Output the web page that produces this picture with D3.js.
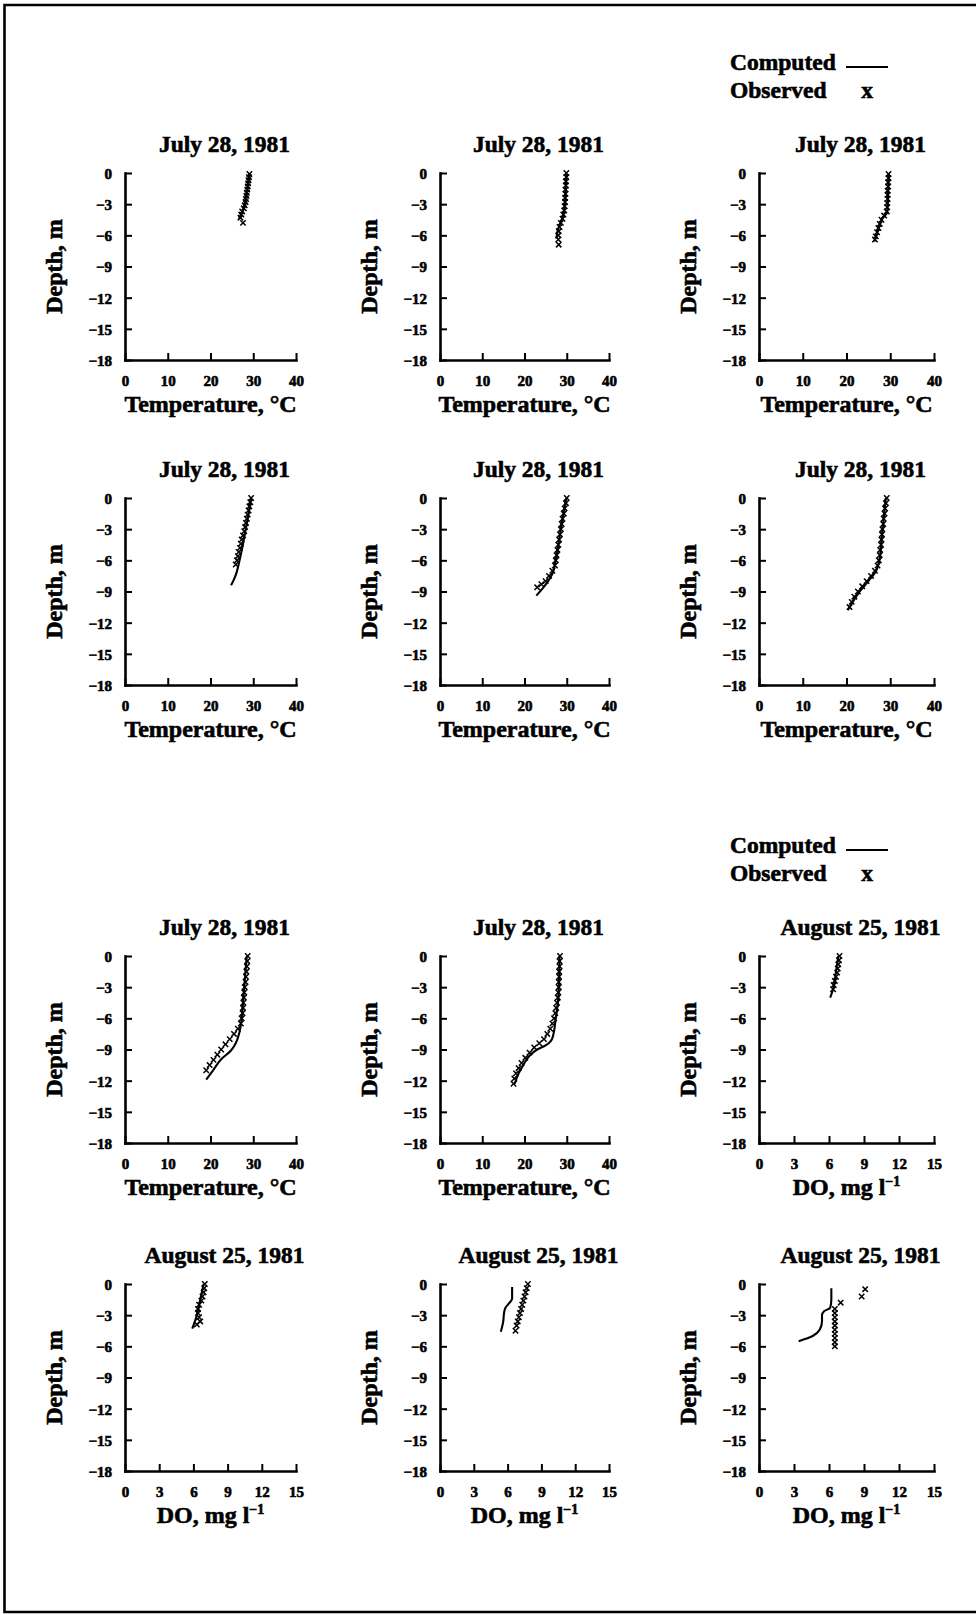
<!DOCTYPE html>
<html>
<head>
<meta charset="utf-8">
<script src="https://cdn.jsdelivr.net/npm/d3@7"></script>
<style>
  html, body { margin: 0; padding: 0; background: #fff; }
  svg { display: block; }
  text { font-family: "Liberation Serif", "DejaVu Serif", serif; font-weight: bold; fill: #000; }
</style>
</head>
<body>
<svg id="fig" width="976" height="1615"></svg>
<script>
// ---- axis ticks and labels ----
const tempTicks = [0, 10, 20, 30, 40];
const doTicks = [0, 3, 6, 9, 12, 15];
const depthTicks = [0, -3, -6, -9, -12, -15, -18];
const depthTickLabels = ["0", "\u22123", "\u22126", "\u22129", "\u221212", "\u221215", "\u221218"];
const tempLabel = "Temperature, °C";
const depthLabel = "Depth, m";
const legendLabels = ["Computed", "Observed"];

const titles = [
  "July 28, 1981", "July 28, 1981", "July 28, 1981",
  "July 28, 1981", "July 28, 1981", "July 28, 1981",
  "July 28, 1981", "July 28, 1981", "August 25, 1981",
  "August 25, 1981", "August 25, 1981", "August 25, 1981"
];
const kinds = ["temp", "temp", "temp", "temp", "temp", "temp",
               "temp", "temp", "do", "do", "do", "do"];

// ---- profiles: [value, depth (m)] ----
const computed1 = [[29.1,0],[28.8,-1],[28.4,-2],[28.0,-3],[27.4,-3.8],[26.7,-4.4]];
const observed1 = [[29.1,-0.1],[29.0,-0.4],[28.9,-0.7],[28.8,-1.0],[28.7,-1.3],[28.6,-1.6],[28.5,-1.9],[28.4,-2.2],
  [28.3,-2.5],[28.2,-2.8],[28.0,-3.1],[27.8,-3.4],[27.4,-3.7],[27.2,-4.0],[27.0,-4.3],[27.6,-4.8]];

const computed2 = [[29.9,-0.1],[29.7,-2],[29.5,-3.2],[29.0,-4.3],[28.3,-5.0],[27.7,-5.8],[27.6,-6.3]];
const observed2 = [[29.9,0],[29.9,-0.4],[29.8,-0.8],[29.8,-1.2],[29.7,-1.6],[29.7,-2.0],[29.6,-2.4],[29.6,-2.8],
  [29.5,-3.2],[29.4,-3.6],[29.2,-4.0],[29.0,-4.4],[28.6,-4.8],[28.3,-5.2],[28.1,-5.6],[28.0,-6.0],[28.0,-6.4],[28.1,-6.9]];

const computed3 = [[29.6,0],[29.5,-2],[29.3,-3.8],[28.3,-4.3],[27.4,-5.2],[26.4,-6.6]];
const observed3 = [[29.6,-0.1],[29.6,-0.5],[29.5,-0.9],[29.5,-1.3],[29.4,-1.7],[29.4,-2.1],[29.4,-2.5],[29.3,-2.9],
  [29.3,-3.3],[29.2,-3.7],[28.6,-4.1],[28.0,-4.5],[27.6,-4.9],[27.3,-5.3],[27.0,-5.7],[26.7,-6.1],[26.5,-6.4]];

const computed4 = [[29.5,0],[28.7,-2],[27.8,-4],[26.8,-6],[26.0,-7.3],[25.3,-8.0],[24.8,-8.4]];
const observed4 = [[29.5,0],[29.3,-0.4],[29.1,-0.8],[28.9,-1.2],[28.7,-1.6],[28.5,-2.0],[28.3,-2.4],[28.1,-2.8],
  [27.9,-3.2],[27.6,-3.6],[27.3,-4.0],[27.1,-4.4],[26.9,-4.8],[26.6,-5.2],[26.4,-5.6],[26.2,-6.0],[25.9,-6.4]];

const computed5 = [[29.9,0],[29.0,-2],[28.2,-4],[27.4,-6],[26.6,-7.3],[25.6,-8.0],[24.3,-8.7],[22.8,-9.4]];
const observed5 = [[30.0,0],[29.8,-0.5],[29.5,-1.0],[29.3,-1.5],[29.0,-2.0],[28.8,-2.5],[28.6,-3.0],[28.4,-3.5],
  [28.2,-4.0],[28.0,-4.5],[27.8,-5.0],[27.6,-5.5],[27.4,-6.0],[27.2,-6.5],[26.6,-7.0],[25.8,-7.5],[25.0,-8.0],
  [24.0,-8.3],[23.0,-8.6]];

const computed6 = [[29.0,0],[28.5,-2],[28.0,-4],[27.5,-6],[26.8,-7.0],[25.0,-8.0],[23.0,-9.0],[21.0,-10.3],[20.3,-10.8]];
const observed6 = [[29.2,0],[29.0,-0.5],[28.8,-1.0],[28.7,-1.5],[28.5,-2.0],[28.4,-2.5],[28.2,-3.0],[28.1,-3.5],
  [28.0,-4.0],[27.9,-4.5],[27.7,-5.0],[27.6,-5.5],[27.4,-6.0],[27.1,-6.5],[26.5,-7.0],[25.6,-7.5],[24.6,-8.0],
  [23.6,-8.5],[22.6,-9.0],[21.8,-9.5],[21.2,-10.0],[20.7,-10.5]];

const computed7 = [[28.5,0],[28.1,-2],[27.7,-4],[27.3,-6],[26.8,-7.3],[25.9,-8.4],[24.8,-9.1],[22.6,-9.9],[20.6,-11.0],[19.0,-11.9]];
const observed7 = [[28.7,0],[28.6,-0.5],[28.5,-1.0],[28.4,-1.5],[28.3,-2.0],[28.2,-2.5],[28.0,-3.0],[27.9,-3.5],
  [27.8,-4.0],[27.7,-4.5],[27.6,-5.0],[27.5,-5.5],[27.3,-6.0],[27.1,-6.5],[26.4,-7.0],[25.5,-7.5],[24.5,-8.0],
  [23.5,-8.5],[22.5,-9.0],[21.6,-9.5],[20.7,-10.0],[19.8,-10.5],[19.0,-11.0]];

const computed8 = [[28.3,0],[28.2,-2],[28.0,-4],[27.4,-6],[26.6,-7.9],[25.0,-8.6],[23.0,-9.0],[21.2,-9.6],[19.7,-10.5],[18.5,-11.4],[17.7,-12.3]];
const observed8 = [[28.4,0],[28.3,-0.5],[28.3,-1.0],[28.2,-1.5],[28.2,-2.0],[28.1,-2.5],[28.1,-3.0],[28.0,-3.5],
  [27.9,-4.0],[27.7,-4.5],[27.5,-5.0],[27.3,-5.5],[27.0,-6.0],[26.6,-6.5],[26.1,-7.0],[25.4,-7.5],[24.6,-8.0],
  [23.5,-8.4],[22.3,-8.8],[21.2,-9.3],[20.2,-9.8],[19.3,-10.3],[18.6,-10.8],[18.0,-11.3],[17.6,-11.8],[17.4,-12.3]];

const computed9 = [[6.8,0],[6.6,-1.5],[6.4,-3],[6.1,-4.0]];
const observed9 = [[6.9,0],[6.85,-0.4],[6.8,-0.8],[6.75,-1.2],[6.7,-1.6],[6.6,-2.0],[6.5,-2.4],[6.4,-2.8],[6.35,-3.2]];

const computed10 = [[6.9,0],[6.6,-1.5],[6.3,-3],[5.9,-4.3]];
const observed10 = [[7.0,0],[6.95,-0.4],[6.9,-0.8],[6.8,-1.2],[6.7,-1.6],[6.5,-2.0],[6.4,-2.4],[6.4,-2.8],
  [6.5,-3.2],[6.6,-3.6],[6.3,-3.9]];

const computed11 = [[6.4,-0.3],[6.4,-1.4],[6.1,-1.9],[5.8,-2.3],[5.7,-2.7],[5.6,-3.7],[5.4,-4.6]];
const observed11 = [[7.8,0],[7.7,-0.4],[7.6,-0.8],[7.5,-1.2],[7.4,-1.6],[7.3,-2.0],[7.2,-2.4],[7.1,-2.8],
  [7.0,-3.2],[6.9,-3.6],[6.8,-4.0],[6.7,-4.5]];

const computed12 = [[6.2,-0.4],[6.2,-1.5],[6.1,-2.3],[5.6,-2.6],[5.4,-3.0],[5.4,-3.6],[5.2,-4.4],[4.6,-5.0],[3.4,-5.5]];
const observed12 = [[9.1,-0.5],[8.8,-1.2],[7.0,-1.8],[6.5,-2.4],[6.5,-2.8],[6.5,-3.2],[6.5,-3.6],[6.5,-4.0],
  [6.5,-4.4],[6.5,-4.8],[6.5,-5.2],[6.5,-5.6],[6.5,-6.0]];

const computedSeries = [computed1, computed2, computed3, computed4, computed5, computed6,
                        computed7, computed8, computed9, computed10, computed11, computed12];
const observedSeries = [observed1, observed2, observed3, observed4, observed5, observed6,
                        observed7, observed8, observed9, observed10, observed11, observed12];

// ---- layout of the 4 x 3 grid ----
const colLeft = [125, 440, 759];
const colRight = [296, 609, 934];
const rowTop = [173, 498, 956, 1284];
const plotH = 187;

const svg = d3.select("#fig");

// outer frame (right edge runs along the page edge)
svg.append("path")
  .attr("d", "M978,5H4.5V1612H978")
  .attr("fill", "none").attr("stroke", "#000").attr("stroke-width", 2.6);

const heavy = sel => sel.attr("stroke", "#000").attr("stroke-width", 0.6).attr("paint-order", "stroke");

function legend(top) {
  const g = svg.append("g");
  g.append("text").attr("x", 730).attr("y", top - 103).attr("font-size", 23.5).text(legendLabels[0]).call(heavy);
  g.append("line").attr("x1", 846).attr("x2", 888).attr("y1", top - 106).attr("y2", top - 106)
    .attr("stroke", "#000").attr("stroke-width", 2);
  g.append("text").attr("x", 730).attr("y", top - 75).attr("font-size", 23.5).text(legendLabels[1]).call(heavy);
  g.append("text").attr("x", 867).attr("y", top - 75).attr("font-size", 23.5)
    .attr("text-anchor", "middle").text("x").call(heavy);
}
legend(rowTop[0]);
legend(rowTop[2]);

const xMark = "M-2.7,-2.7L2.7,2.7M-2.7,2.7L2.7,-2.7";

titles.forEach((title, i) => {
  const r = Math.floor(i / 3), c = i % 3;
  const left = colLeft[c], right = colRight[c];
  const top = rowTop[r], bottom = top + plotH;
  const isTemp = kinds[i] === "temp";

  const x = d3.scaleLinear().domain(isTemp ? [0, 40] : [0, 15]).range([left, right]);
  const y = d3.scaleLinear().domain([0, -18]).range([top, bottom]);

  const g = svg.append("g");

  // title
  g.append("text")
    .attr("x", (left + right) / 2 + 14).attr("y", top - 21)
    .attr("text-anchor", "middle").attr("font-size", 23.5)
    .text(title).call(heavy);

  // y axis
  const ya = g.append("g").attr("transform", `translate(${left},0)`)
    .call(d3.axisLeft(y).tickValues(depthTicks).tickSize(-7).tickSizeOuter(0)
      .tickPadding(13).tickFormat((d, k) => depthTickLabels[k]));
  // x axis
  const xa = g.append("g").attr("transform", `translate(0,${bottom})`)
    .call(d3.axisBottom(x).tickValues(isTemp ? tempTicks : doTicks).tickSize(-7).tickSizeOuter(0)
      .tickPadding(15).tickFormat(d3.format("d")));

  [ya, xa].forEach(a => {
    a.select(".domain").attr("stroke-width", 2.6).attr("stroke-linecap", "square");
    a.selectAll(".tick line").attr("stroke-width", 2);
    a.selectAll(".tick text").attr("font-family", "Liberation Serif, serif")
      .attr("font-weight", "bold").attr("font-size", 15).call(heavy);
  });
  ya.selectAll(".tick text").attr("dy", "0.36em");

  // axis titles
  g.append("text")
    .attr("transform", `translate(${left - 63},${(top + bottom) / 2}) rotate(-90)`)
    .attr("text-anchor", "middle").attr("font-size", 24).text(depthLabel).call(heavy);

  const xl = g.append("text")
    .attr("x", (left + right) / 2).attr("y", bottom + 52)
    .attr("text-anchor", "middle").attr("font-size", 24).call(heavy);
  if (isTemp) {
    xl.text(tempLabel);
  } else {
    xl.append("tspan").text("DO, mg l");
    xl.append("tspan").attr("dy", -9).attr("font-size", 14).text("\u22121");
  }

  // computed profile
  g.append("path")
    .datum(computedSeries[i])
    .attr("fill", "none").attr("stroke", "#000").attr("stroke-width", 2.1)
    .attr("stroke-linejoin", "round")
    .attr("d", d3.line().x(d => x(d[0])).y(d => y(d[1])).curve(d3.curveMonotoneY));

  // observed points
  g.selectAll(".obs").data(observedSeries[i]).join("path")
    .attr("class", "obs")
    .attr("transform", d => `translate(${x(d[0])},${y(d[1])})`)
    .attr("d", xMark)
    .attr("fill", "none").attr("stroke", "#000").attr("stroke-width", 1.5);
});
</script>
</body>
</html>
